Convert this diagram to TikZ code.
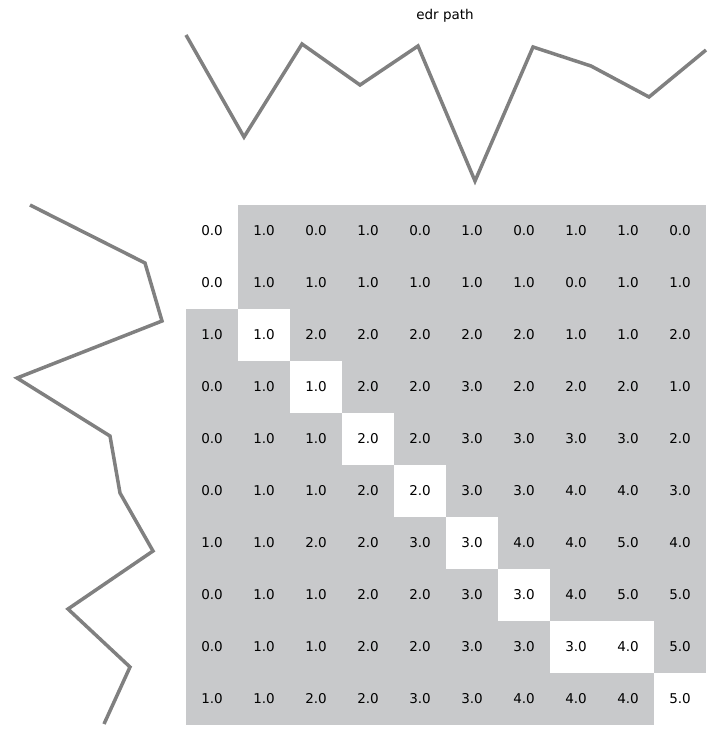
\documentclass[tikz,border=0pt]{standalone}
\usepackage{fontspec}
\setmainfont{DejaVu Sans}
\definecolor{cellgray}{HTML}{C8C9CB}
\definecolor{linegray}{HTML}{808080}
\begin{document}
\begin{tikzpicture}[x=1pt,y=-1pt,
  cellbox/.style={minimum size=52pt,inner sep=0pt,font=\fontsize{13.5}{15}\selectfont},
  pathline/.style={draw=linegray,line width=3.5pt,line join=miter}]
\useasboundingbox (0,0) rectangle (715,735);
\node (title) at (445,16) {\fontsize{13.5}{15}\selectfont edr path};
\def\vals{{0,1,0,1,0,1,0,1,1,0},{0,1,1,1,1,1,1,0,1,1},{1,1,2,2,2,2,2,1,1,2},{0,1,1,2,2,3,2,2,2,1},{0,1,1,2,2,3,3,3,3,2},{0,1,1,2,2,3,3,4,4,3},{1,1,2,2,3,3,4,4,5,4},{0,1,1,2,2,3,3,4,5,5},{0,1,1,2,2,3,3,3,4,5},{1,1,2,2,3,3,4,4,4,5}}
\foreach \r/\row in {0/{0,1,0,1,0,1,0,1,1,0},1/{0,1,1,1,1,1,1,0,1,1},2/{1,1,2,2,2,2,2,1,1,2},3/{0,1,1,2,2,3,2,2,2,1},4/{0,1,1,2,2,3,3,3,3,2},5/{0,1,1,2,2,3,3,4,4,3},6/{1,1,2,2,3,3,4,4,5,4},7/{0,1,1,2,2,3,3,4,5,5},8/{0,1,1,2,2,3,3,3,4,5},9/{1,1,2,2,3,3,4,4,4,5}}{
  \foreach \v [count=\c from 0] in \row {
    \pgfmathtruncatemacro{\w}{ (\r==0 && \c==0) || (\r==1 && \c==0) || (\r==2 && \c==1) || (\r==3 && \c==2) || (\r==4 && \c==3) || (\r==5 && \c==4) || (\r==6 && \c==5) || (\r==7 && \c==6) || (\r==8 && \c==7) || (\r==8 && \c==8) || (\r==9 && \c==9) ? 1 : 0}
    \ifnum\w=1 \def\fc{white}\else\def\fc{cellgray}\fi
    \node[cellbox,fill=\fc] (c\r-\c) at (212+52*\c,231+52*\r) {\v.0};
  }
}
\draw[pathline] (186,35)--(244,137)--(302,44)--(360,85)--(418,46)--(475,181)--(533,47)--(591,66)--(649,97)--(706,50);
\draw[pathline] (30,205)--(145,263)--(162,321)--(17,378)--(110,436)--(120,493)--(153,551)--(68,609)--(130,667)--(104,724);
\end{tikzpicture}
\end{document}
